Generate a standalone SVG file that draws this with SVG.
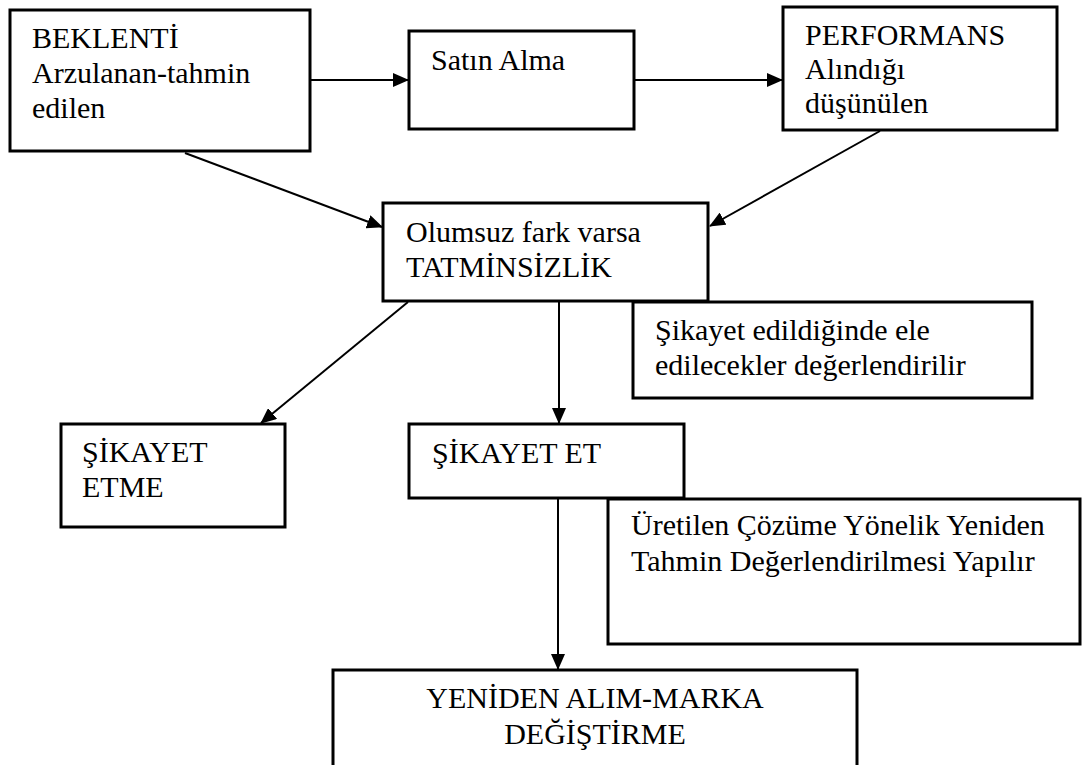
<svg xmlns="http://www.w3.org/2000/svg" width="1082" height="765" viewBox="0 0 1082 765">
  <style>
    .box { fill: #fff; stroke: #000; stroke-width: 3; }
    .t { font-family: 'Liberation Serif', 'Times New Roman', Times, 'DejaVu Serif', serif; font-size: 30px; fill: #000; }
    .c { text-anchor: middle; }
    .conn { stroke: #000; stroke-width: 2; fill: none; marker-end: url(#arrow); }
  </style>
  <defs>
    <marker id="arrow" viewBox="0 0 16 14" refX="15" refY="7" markerWidth="16" markerHeight="14" markerUnits="userSpaceOnUse" orient="auto">
      <path d="M0,0 L16,7 L0,14 Z" fill="#000"/>
    </marker>
  </defs>
  <rect width="1082" height="765" fill="#fff"/>

  <g id="connectors">
    <line class="conn" x1="311" y1="80" x2="408" y2="80"/>
    <line class="conn" x1="635" y1="80" x2="782" y2="80"/>
    <line class="conn" x1="185" y1="153" x2="382" y2="227"/>
    <line class="conn" x1="880" y1="131" x2="710" y2="226"/>
    <line class="conn" x1="408" y1="302" x2="261" y2="423"/>
    <line class="conn" x1="559" y1="302" x2="559" y2="423"/>
    <line class="conn" x1="558" y1="499" x2="558" y2="669"/>
  </g>

  <g id="node-beklenti">
    <rect class="box" x="10" y="10" width="300" height="141"/>
    <text class="t" x="32" y="48">BEKLENTİ</text>
    <text class="t" x="32" y="83">Arzulanan-tahmin</text>
    <text class="t" x="32" y="118">edilen</text>
  </g>

  <g id="node-satin-alma">
    <rect class="box" x="409" y="31" width="225" height="98"/>
    <text class="t" x="431" y="70">Satın Alma</text>
  </g>

  <g id="node-performans">
    <rect class="box" x="783" y="7" width="274" height="123"/>
    <text class="t" x="805" y="45">PERFORMANS</text>
    <text class="t" x="805" y="79">Alındığı</text>
    <text class="t" x="805" y="113">düşünülen</text>
  </g>

  <g id="node-tatminsizlik">
    <rect class="box" x="383" y="203" width="325" height="98"/>
    <text class="t" x="406" y="242">Olumsuz fark varsa</text>
    <text class="t" x="406" y="277">TATMİNSİZLİK</text>
  </g>

  <g id="node-sikayet-edildiginde">
    <rect class="box" x="633" y="302" width="399" height="96"/>
    <text class="t" x="655" y="340">Şikayet edildiğinde ele</text>
    <text class="t" x="655" y="375">edilecekler değerlendirilir</text>
  </g>

  <g id="node-sikayet-etme">
    <rect class="box" x="61" y="424" width="224" height="103"/>
    <text class="t" x="82" y="462">ŞİKAYET</text>
    <text class="t" x="82" y="497">ETME</text>
  </g>

  <g id="node-sikayet-et">
    <rect class="box" x="409" y="424" width="275" height="74"/>
    <text class="t" x="432" y="463">ŞİKAYET ET</text>
  </g>

  <g id="node-uretilen">
    <rect class="box" x="608" y="499" width="472" height="145"/>
    <text class="t" x="631" y="535">Üretilen Çözüme Yönelik Yeniden</text>
    <text class="t" x="631" y="571">Tahmin Değerlendirilmesi Yapılır</text>
  </g>

  <g id="node-yeniden-alim">
    <rect class="box" x="333" y="670" width="524" height="110"/>
    <text class="t c" x="595" y="708">YENİDEN ALIM-MARKA</text>
    <text class="t c" x="595" y="744">DEĞİŞTİRME</text>
  </g>
</svg>
